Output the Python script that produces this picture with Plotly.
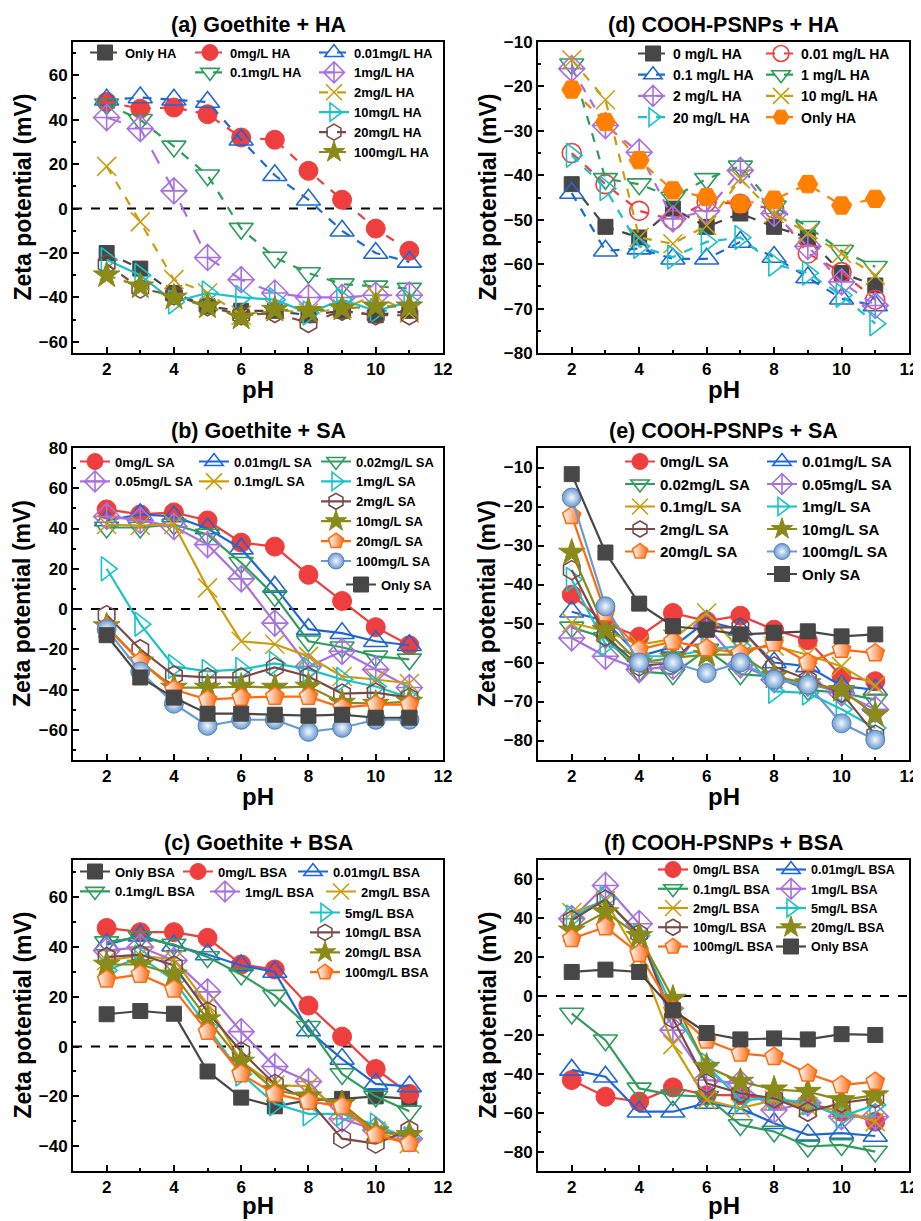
import plotly.graph_objects as go

W, H = 921, 1221          # reference canvas (pixels)
OFF = 8                   # page body margin offset of the embedded figure
FW, FH = W - OFF, H - OFF # figure size so that it ends at the window edge
PH = [2, 3, 4, 5, 6, 7, 8, 9, 10, 11]

# ---------------- (a) Goethite + HA ----------------
A_NAMES = ["Only HA", "0mg/L HA", "0.01mg/L HA", "0.1mg/L HA", "1mg/L HA",
           "2mg/L HA", "10mg/L HA", "20mg/L HA", "100mg/L HA"]
A_ONLY = [-20, -27, -38, -44, -46, -46, -48, -46, -48, -46]
A_0 = [48, 45, 45.5, 42.5, 32, 31, 17, 4, -9, -19]
A_001 = [49, 50, 49, 48, 31, 15, 4, -10, -20, -24]
A_01 = [47, 40, 28, 15, -9, -22, -29, -34, -35, -36]
A_1 = [41, 36, 8, -22, -32, -38, -40, -40, -39, -39]
A_2 = [19, -6, -32, -38, -48, -45.5, -47, -45, -39, -47]
A_10 = [-23, -30, -42, -38, -40, -41, -47, -41, -46, -42]
A_20 = [-25, -36, -39, -44, -48, -47, -51.5, -46, -48, -48]
A_100 = [-30, -35, -40, -44, -49, -45.5, -46, -45, -44, -44]

# ---------------- (b) Goethite + SA ----------------
B_NAMES = ["0mg/L SA", "0.01mg/L SA", "0.02mg/L SA", "0.05mg/L SA", "0.1mg/L SA",
           "1mg/L SA", "2mg/L SA", "10mg/L SA", "20mg/L SA", "100mg/L SA", "Only SA"]
B_0 = [49.5, 47, 48, 44, 33, 31, 17, 4, -9, -18]
B_001 = [44, 47, 46, 40, 30, 11, -10, -12, -16, -18]
B_002 = [40.5, 40.5, 42, 37, 23, 6.5, -16, -19, -23.5, -25]
B_005 = [46, 44, 41, 32, 15, -7, -28.5, -21, -30, -39]
B_01 = [42, 41.5, 42, 10.5, -16, -17.5, -23.5, -33.5, -35, -37]
B_1 = [20, -7.5, -28.5, -31, -30, -27, -30, -35, -38.5, -44]
B_2 = [-3, -20, -33, -34, -34, -29, -33.5, -42, -41.5, -44]
B_10 = [-8.5, -26, -39, -39, -38.5, -39, -38.5, -46.5, -47, -46]
B_20 = [-9, -26, -40, -45, -44, -43.5, -43.5, -49, -47.5, -47.5]
B_100 = [-10, -31, -47, -58, -55, -55, -61, -59, -55, -55]
B_ONLY = [-13, -34, -44, -52, -52, -52.5, -53, -52.5, -54, -54]

# ---------------- (c) Goethite + BSA ----------------
C_NAMES = ["Only BSA", "0mg/L BSA", "0.01mg/L BSA", "0.1mg/L BSA", "1mg/L BSA",
           "2mg/L BSA", "5mg/L BSA", "10mg/L BSA", "20mg/L BSA", "100mg/L BSA"]
C_ONLY = [13, 14.3, 13.2, -10, -20.5, -24, -21.5, -21, -20, -21]
C_0 = [47.7, 46, 46, 43.7, 33, 31, 16.5, 4, -9, -19]
C_001 = [41, 44.6, 40.6, 37, 32.6, 30, 6.5, -5, -15, -16]
C_01 = [42, 44, 41, 36, 29, 20.5, 8, -11, -20, -26]
C_1 = [38.6, 40, 34.6, 22, 6, -8, -14, -29, -33.5, -37]
C_2 = [34.6, 36.6, 35, 17, -6, -15.5, -16, -26, -34, -39]
C_5 = [30.6, 36, 26.6, 8, -11, -23, -27, -27, -31.5, -37]
C_10 = [36, 37, 32.6, 14, -2, -15, -21.5, -37, -39, -33.5]
C_20 = [33, 33, 29, 11, -6, -17.5, -20, -23, -34, -35.5]
C_100 = [27, 29, 23, 6, -11, -19, -22, -24, -35.5, -39]

# ---------------- (d) COOH-PSNPs + HA ----------------
D_NAMES = ["0 mg/L HA", "0.01 mg/L HA", "0.1 mg/L HA", "1 mg/L HA", "2 mg/L HA",
           "10 mg/L HA", "20 mg/L HA", "Only HA"]
D_0 = [-42, -51.6, -54, -47.5, -51.6, -48.6, -51.6, -54, -62, -64.8]
D_001 = [-35, -42, -48, -50, -46, -46.4, -47.5, -57.6, -61.8, -68]
D_01 = [-44, -57, -56.5, -58.8, -58.8, -55, -58.4, -63, -67.8, -69.3]
D_1 = [-15, -40.8, -42, -45, -40.8, -38, -47, -51.6, -57, -60.6]
D_2 = [-16, -28.8, -34.8, -49.8, -48, -38.9, -48.6, -56, -64, -69.3]
D_10 = [-14, -23, -54, -55.4, -51.3, -40.8, -48.6, -53, -57.6, -62.5]
D_20 = [-35.5, -43, -56, -58.4, -55, -54, -60, -62, -67, -73.4]
D_ONLY = [-20.7, -28, -36.6, -43.4, -44.9, -46.4, -45.5, -42, -46.8, -45.3]

# ---------------- (e) COOH-PSNPs + SA ----------------
E_NAMES = ["0mg/L SA", "0.01mg/L SA", "0.02mg/L SA", "0.05mg/L SA", "0.1mg/L SA",
           "1mg/L SA", "2mg/L SA", "10mg/L SA", "20mg/L SA", "100mg/L SA", "Only SA"]
E_0 = [-42.6, -50, -53.4, -47.3, -49.4, -48, -51.6, -54.3, -63.6, -64.8]
E_001 = [-47, -49.4, -58.4, -56, -49.4, -51.6, -60, -61, -66, -67]
E_002 = [-51, -53.7, -62.3, -63, -56.7, -63, -63.6, -67, -67.8, -69.5]
E_005 = [-53.7, -58.4, -61.8, -61, -50.7, -60.6, -64.4, -65.3, -67.8, -72]
E_01 = [-49.8, -52, -55.4, -54, -47.3, -56.7, -55.8, -58, -61, -66]
E_1 = [-38.7, -55.4, -58.4, -58.4, -56.7, -55.8, -67.4, -67.8, -72, -76.8]
E_2 = [-36.3, -53.3, -61, -60, -51, -51, -61, -64.4, -67.8, -78.5]
E_10 = [-31.8, -51.6, -60, -58.8, -58, -58, -63.6, -65.3, -67, -73.4]
E_20 = [-22.4, -47.3, -56.7, -54.6, -56.3, -57.6, -55, -60, -56.7, -57.6]
E_100 = [-17.7, -45.6, -60, -60, -62.7, -60, -64.4, -65.7, -75.6, -79.8]
E_ONLY = [-11.7, -31.8, -44.9, -50.7, -51.6, -52.8, -52.4, -52, -53.3, -52.8]

# ---------------- (f) COOH-PSNPs + BSA ----------------
F_NAMES = ["0mg/L BSA", "0.01mg/L BSA", "0.1mg/L BSA", "1mg/L BSA", "2mg/L BSA",
           "5mg/L BSA", "10mg/L BSA", "20mg/L BSA", "100mg/L BSA", "Only BSA"]
F_0 = [-43.2, -51.8, -54.3, -47, -51, -51, -53.5, -55, -59.5, -64.6]
F_001 = [-38, -41.5, -59.5, -59.5, -55, -57.7, -65.4, -71.4, -70.5, -72]
F_01 = [-9, -22.7, -47.5, -51, -51.8, -66.3, -69.7, -77.4, -76.6, -80]
F_1 = [39.8, 56.9, 37.2, -17.5, -43.2, -44.9, -58.6, -55, -62, -62]
F_2 = [43, 49, 20, -25, -53.5, -57.7, -53.5, -57, -58.6, -64.6]
F_5 = [40.6, 50, 31, -6.4, -35.5, -53.5, -52.6, -55, -62, -56]
F_10 = [39, 49.6, 32, -11.6, -44.9, -50, -52.6, -59.5, -55, -52.6]
F_20 = [33.8, 43.2, 31, -1.3, -36.3, -44, -48, -49.2, -53.5, -51]
F_100 = [29.5, 35.5, 21.8, -7.3, -22.7, -29.5, -31.2, -39.8, -45.8, -44]
F_ONLY = [12.4, 13.6, 12.4, -7.3, -19, -22.3, -21.8, -22.3, -19.6, -20]

TITLES = ["(a) Goethite + HA", "(b) Goethite + SA", "(c) Goethite + BSA",
          "(d) COOH-PSNPs + HA", "(e) COOH-PSNPs + SA", "(f) COOH-PSNPs + BSA"]

# ---------------- styling ----------------
FONT = "Liberation Sans, Arial, sans-serif"
STY = {
    "dark":   dict(symbol="square", color="#474747", size=15, filled=True),
    "red":    dict(symbol="circle", color="#EE3E3E", size=19, filled=True),
    "redo":   dict(symbol="circle-open", color="#EE3E3E", size=19, filled=False),
    "blue":   dict(symbol="triangle-up-open", color="#1F67D6", size=21, filled=False),
    "green":  dict(symbol="triangle-down-open", color="#2E9D5C", size=21, filled=False),
    "purple": dict(symbol="diamond-cross-open", color="#A970DF", size=20, filled=False),
    "gold":   dict(symbol="x-thin-open", color="#C99E0E", size=19, filled=False),
    "cyan":   dict(symbol="triangle-right-open", color="#1BC2C6", size=21, filled=False),
    "brown":  dict(symbol="hexagon-open", color="#7A4A47", size=19, filled=False),
    "olive":  dict(symbol="star", color="#8A8A19", size=20, filled=True),
    "orange": dict(symbol="pentagon", color="#FF6A10", size=19, filled=True, half=True),
    "sphere": dict(symbol="circle", color="#6A9AD0", size=19, filled=True, sphere=True),
    "orhex":  dict(symbol="hexagon2", color="#FF8000", size=20, filled=True),
}

# subplot geometry (pixels in the reference picture)
XL = (73, 443)
XR = (538, 909)
ROWS = [(42, 353), (448, 760), (860, 1171)]
PH_GAP = [36, 37, 34]
YRANGES = [(-65, 75), (-75, 80), (-50, 75), (-80, -10), (-85, -5), (-90, 70)]
YDT = [20, 20, 20, 10, 10, 20]
ZERO = [True, True, True, False, False, True]

PANELS = [
    (A_NAMES, [A_ONLY, A_0, A_001, A_01, A_1, A_2, A_10, A_20, A_100],
     ["dark", "red", "blue", "green", "purple", "gold", "cyan", "brown", "olive"],
     ["la1", "la2", "la3", "la2", "la3", "la3", "la3", "la3", "la3"],
     ["dash", "dash", "dash", "dash", "longdash", "dash", "solid", "dash", "dash"]),
    (B_NAMES, [B_0, B_001, B_002, B_005, B_01, B_1, B_2, B_10, B_20, B_100, B_ONLY],
     ["red", "blue", "green", "purple", "gold", "cyan", "brown", "olive", "orange", "sphere", "dark"],
     ["lb1", "lb2", "lb3", "lb1", "lb2", "lb3", "lb3", "lb3", "lb3", "lb3", "lb4"],
     ["solid"] * 11),
    (C_NAMES, [C_ONLY, C_0, C_001, C_01, C_1, C_2, C_5, C_10, C_20, C_100],
     ["dark", "red", "blue", "green", "purple", "gold", "cyan", "brown", "olive", "orange"],
     ["lc1", "lc2", "lc4", "lc1", "lc3", "lc5", "lc6", "lc6", "lc6", "lc6"],
     ["solid"] * 10),
    (D_NAMES, [D_0, D_001, D_01, D_1, D_2, D_10, D_20, D_ONLY],
     ["dark", "redo", "blue", "green", "purple", "gold", "cyan", "orhex"],
     ["ld1", "ld2", "ld1", "ld2", "ld1", "ld2", "ld1", "ld2"],
     ["dash"] * 8),
    (E_NAMES, [E_0, E_001, E_002, E_005, E_01, E_1, E_2, E_10, E_20, E_100, E_ONLY],
     ["red", "blue", "green", "purple", "gold", "cyan", "brown", "olive", "orange", "sphere", "dark"],
     ["le1", "le2", "le1", "le2", "le1", "le2", "le1", "le2", "le1", "le2", "le2"],
     ["solid"] * 11),
    (F_NAMES, [F_0, F_001, F_01, F_1, F_2, F_5, F_10, F_20, F_100, F_ONLY],
     ["red", "blue", "green", "purple", "gold", "cyan", "brown", "olive", "orange", "dark"],
     ["lf1", "lf2", "lf1", "lf2", "lf1", "lf2", "lf1", "lf2", "lf1", "lf2"],
     ["solid"] * 10),
]

# legend boxes: text-start x (px), centre of first row (px), font size
LEG = {
    "la1": (127, 54, 13), "la2": (232, 54, 13), "la3": (356, 54, 13),
    "lb1": (117, 463, 13), "lb2": (236, 463, 13), "lb3": (358, 463, 13), "lb4": (383, 586, 13),
    "lc1": (117, 873, 13), "lc2": (220, 873, 13), "lc3": (247, 893, 13),
    "lc4": (335, 873, 13), "lc5": (363, 893, 13), "lc6": (347, 914, 13),
    "ld1": (675, 55, 14), "ld2": (803, 55, 14),
    "le1": (662, 463, 15), "le2": (804, 463, 15),
    "lf1": (695, 871, 12.5), "lf2": (813, 871, 12.5),
}
LEG_ID = {k: ("legend" if i == 0 else f"legend{i + 1}") for i, k in enumerate(LEG)}


def px_x(p):
    return (p - OFF) / FW


def px_y(p):
    return 1 - (p - OFF) / FH


fig = go.Figure()
layout = dict(width=FW, height=FH, margin=dict(l=0, r=0, t=0, b=0, pad=0, autoexpand=False),
              paper_bgcolor="white", plot_bgcolor="white", showlegend=True,
              font=dict(family=FONT, color="black", weight="bold"))
annotations = []
shapes = []

for i, (names, series, styles, legs, dashes) in enumerate(PANELS):
    n = i + 1
    col = 0 if i < 3 else 1
    row = i % 3
    xd = XL if col == 0 else XR
    yt, yb = ROWS[row]
    xk = "xaxis" if n == 1 else f"xaxis{n}"
    yk = "yaxis" if n == 1 else f"yaxis{n}"
    xr = "x" if n == 1 else f"x{n}"
    yr = "y" if n == 1 else f"y{n}"
    layout[xk] = dict(domain=[px_x(xd[0]), px_x(xd[1])], anchor=yr, range=[1, 12],
                      tickvals=[2, 4, 6, 8, 10, 12], ticks="inside", ticklen=6, tickwidth=2,
                      tickcolor="black", showline=True, linewidth=2, linecolor="black",
                      mirror=True, showgrid=False, zeroline=False, automargin=False,
                      tickfont=dict(size=17, family=FONT, weight="bold"),
                      minor=dict(ticks="inside", ticklen=3, tickwidth=1.5, dtick=1,
                                 tickcolor="black", showgrid=False))
    lo, hi = YRANGES[i]
    dt = YDT[i]
    first = -((-lo) // dt) * dt if lo < 0 else lo
    tv = list(range(int(first), int(hi) + 1, dt))
    tv = [v for v in tv if lo <= v <= hi]
    layout[yk] = dict(domain=[px_y(yb), px_y(yt)], anchor=xr, range=[lo, hi],
                      tickvals=tv, ticks="inside", ticklen=6, tickwidth=2,
                      tickcolor="black", showline=True, linewidth=2, linecolor="black",
                      mirror=True, showgrid=False, zeroline=False, automargin=False,
                      tickfont=dict(size=17, family=FONT, weight="bold"),
                      minor=dict(ticks="inside", ticklen=3, tickwidth=1.5, dtick=dt / 2,
                                 tickcolor="black", showgrid=False))
    if ZERO[i]:
        shapes.append(dict(type="line", xref=f"{xr} domain", yref=yr, x0=0, x1=1, y0=0, y1=0,
                           line=dict(color="black", width=2, dash="dash"), layer="below"))
    cx = (xd[0] + xd[1]) / 2
    # panel title
    annotations.append(dict(text=TITLES[i], x=px_x(cx), y=px_y(yt - 17), xref="paper", yref="paper",
                            showarrow=False, xanchor="center", yanchor="middle",
                            font=dict(size=21.5, family=FONT, weight="bold", color="black")))
    # x title
    annotations.append(dict(text="pH", x=px_x(cx), y=px_y(yb + PH_GAP[row]), xref="paper", yref="paper",
                            showarrow=False, xanchor="center", yanchor="middle",
                            font=dict(size=24, family=FONT, weight="bold", color="black")))
    # y title
    annotations.append(dict(text="Zeta potential (mV)", x=px_x(xd[0] - 51), y=px_y((yt + yb) / 2),
                            xref="paper", yref="paper", textangle=-90,
                            showarrow=False, xanchor="center", yanchor="middle",
                            font=dict(size=23, family=FONT, weight="bold", color="black")))

    for name, ys, st_key, lg, dash in zip(names, series, styles, legs, dashes):
        st = STY[st_key]
        c = st["color"]
        marker = dict(symbol=st["symbol"], size=st["size"], color=c,
                      line=dict(color=c, width=1.6 if not st["filled"] else 1))
        if st.get("half"):
            marker["color"] = "white"
            marker["gradient"] = dict(type="horizontal", color=c)
            marker["line"] = dict(color=c, width=1.5)
        if st.get("sphere"):
            marker["gradient"] = dict(type="radial", color="#F4F8FD")
            marker["line"] = dict(color="#4F82BE", width=1)
        fig.add_trace(go.Scatter(x=PH, y=ys, name=name, mode="lines+markers",
                                 line=dict(color=c, width=2.2, dash=dash),
                                 marker=marker, xaxis=xr, yaxis=yr,
                                 legend=LEG_ID[lg], hoverinfo="skip"))

for key, (tx, cy, fs) in LEG.items():
    ih = fs * 1.3 + 3
    layout[LEG_ID[key]] = dict(x=px_x(tx - 42), y=px_y(cy - ih / 2 - 6.5), xref="paper", yref="paper",
                               xanchor="left", yanchor="top", orientation="v",
                               bgcolor="rgba(0,0,0,0)", borderwidth=0, tracegroupgap=0,
                               font=dict(size=fs, family=FONT, weight="bold", color="black"))

layout["annotations"] = annotations
layout["shapes"] = shapes
fig.update_layout(**layout)
fig.write_html("out.html")
